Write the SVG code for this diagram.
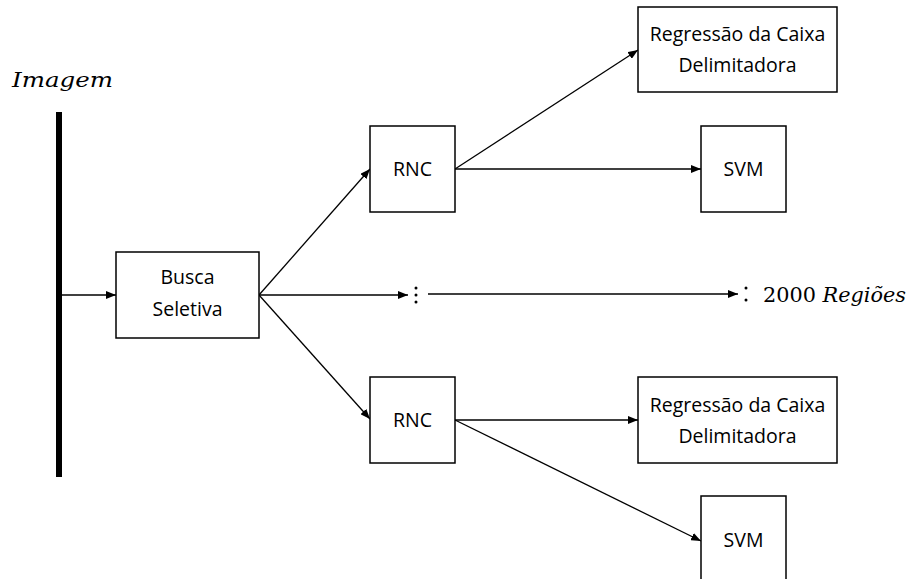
<svg xmlns="http://www.w3.org/2000/svg" width="911" height="579" viewBox="0 0 911 579">
<style>
.box{fill:#fff;stroke:#000;stroke-width:1.5}
.lbl{font-family:"Open Sans","Liberation Sans",sans-serif;font-size:19.5px;fill:#000;text-anchor:middle}
.math{font-family:"DejaVu Serif","Liberation Serif",serif;font-style:italic;font-size:21px;fill:#000}
.num{font-family:"DejaVu Serif","Liberation Serif",serif;font-size:21px;fill:#000}
.c{stroke:#000;stroke-width:1.3;fill:none}
.dot{fill:#000}
</style>
<defs>
<marker id="ah" markerWidth="10" markerHeight="8" refX="10" refY="4" orient="auto" markerUnits="userSpaceOnUse">
<path d="M0,0 L10,4 L0,8 Z" fill="#000"/>
</marker>
</defs>
<rect width="911" height="579" fill="#fff"/>
<g id="imagem">
<text class="math" x="12" y="87" textLength="101" lengthAdjust="spacingAndGlyphs">Imagem</text>
<rect x="56" y="112" width="6" height="365" fill="#000"/>
</g>
<g id="connectors">
<line class="c" x1="62" y1="295" x2="116" y2="295" marker-end="url(#ah)"/>
<line class="c" x1="259" y1="295" x2="370" y2="169" marker-end="url(#ah)"/>
<line class="c" x1="259" y1="295" x2="370" y2="419" marker-end="url(#ah)"/>
<line class="c" x1="259" y1="295" x2="408" y2="295" marker-end="url(#ah)"/>
<line class="c" x1="428" y1="294" x2="738" y2="294" marker-end="url(#ah)"/>
<line class="c" x1="455" y1="169" x2="638" y2="50" marker-end="url(#ah)"/>
<line class="c" x1="455" y1="169" x2="701" y2="169" marker-end="url(#ah)"/>
<line class="c" x1="455" y1="420" x2="638" y2="420" marker-end="url(#ah)"/>
<line class="c" x1="455" y1="420" x2="701" y2="541" marker-end="url(#ah)"/>
</g>
<g id="dots1">
<circle class="dot" cx="416" cy="288" r="1.5"/>
<circle class="dot" cx="416" cy="295" r="1.5"/>
<circle class="dot" cx="416" cy="302" r="1.5"/>
</g>
<g id="regioes">
<circle class="dot" cx="746" cy="288" r="1.5"/>
<circle class="dot" cx="746" cy="300" r="1.5"/>
<text x="763" y="302" textLength="143" lengthAdjust="spacingAndGlyphs"><tspan class="num">2000 </tspan><tspan class="math">Regiões</tspan></text>
</g>
<g id="busca">
<rect class="box" x="116" y="252" width="143" height="86"/>
<text class="lbl" x="187.5" y="284">Busca</text>
<text class="lbl" x="187.5" y="316">Seletiva</text>
</g>
<g id="rnc1">
<rect class="box" x="370" y="126" width="85" height="86"/>
<text class="lbl" x="412.5" y="176">RNC</text>
</g>
<g id="rnc2">
<rect class="box" x="370" y="377" width="85" height="86"/>
<text class="lbl" x="412.5" y="427">RNC</text>
</g>
<g id="reg1">
<rect class="box" x="638" y="7" width="199" height="85"/>
<text class="lbl" x="737.5" y="41">Regressão da Caixa</text>
<text class="lbl" x="737.5" y="72">Delimitadora</text>
</g>
<g id="svm1">
<rect class="box" x="701" y="126" width="85" height="86"/>
<text class="lbl" x="743.5" y="176">SVM</text>
</g>
<g id="reg2">
<rect class="box" x="638" y="377" width="199" height="86"/>
<text class="lbl" x="737.5" y="412">Regressão da Caixa</text>
<text class="lbl" x="737.5" y="443">Delimitadora</text>
</g>
<g id="svm2">
<rect class="box" x="701" y="496" width="85" height="100"/>
<text class="lbl" x="743.5" y="547">SVM</text>
</g>
</svg>
